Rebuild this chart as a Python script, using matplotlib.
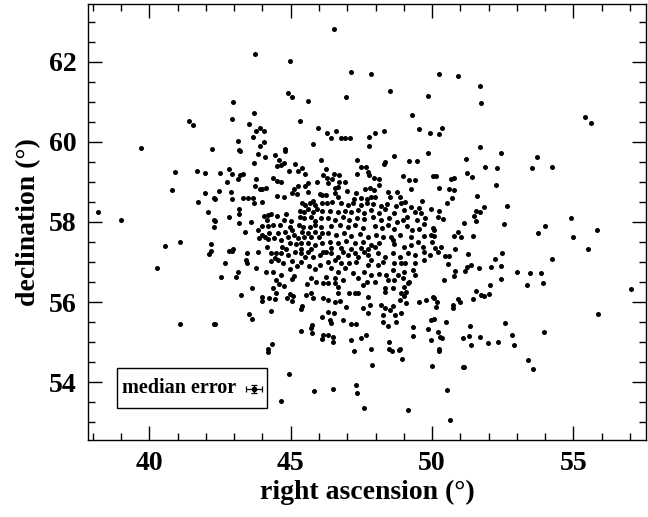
import numpy as np
import matplotlib
matplotlib.use('Agg')
import matplotlib.pyplot as plt
from matplotlib.patches import Rectangle
from matplotlib.ticker import MultipleLocator

plt.rcParams['font.family'] = ['Liberation Serif', 'DejaVu Serif']
plt.rcParams['font.weight'] = 'bold'

# Source positions (RA, Dec in degrees)
ra_outer = [43.73, 42.95, 43.70, 41.39, 41.53, 42.94, 43.52, 43.92, 43.77, 44.06, 43.14, 43.66, 44.04, 43.92,
            39.71, 42.20, 43.18, 46.53, 44.97, 47.13, 47.83, 50.26, 50.92, 44.91, 45.03, 45.60, 46.94, 48.50,
            49.84, 49.28, 45.32, 45.97, 46.30, 46.41, 46.62, 46.79, 46.91, 47.11, 47.76, 47.99, 48.30, 49.53,
            49.94, 50.26, 50.34, 45.80, 47.76, 44.80, 51.70, 51.72, 55.41, 55.62, 51.70,
            40.90, 41.67, 41.97, 40.81, 41.96, 42.27, 41.73, 42.07, 38.19, 38.98, 42.27, 42.27, 41.08, 40.54,
            42.17, 42.18, 42.12, 40.27, 41.07, 42.29,
            51.14, 53.39, 53.58, 47.23, 48.57, 48.84, 50.26, 44.94, 47.88, 48.93, 50.00, 51.10, 44.65, 45.84,
            46.49, 47.30, 47.33, 47.60, 49.16, 50.54, 50.64, 44.19]
dec_outer = [62.20, 61.00, 60.73, 60.53, 60.42, 60.57, 60.45, 60.36, 60.27, 60.28, 60.03, 60.12, 60.00, 59.90,
             59.84, 59.82, 59.80, 62.83, 62.03, 61.74, 61.71, 61.69, 61.66, 61.23, 61.13, 61.02, 61.12, 61.28,
             61.14, 60.68, 60.53, 60.34, 60.22, 60.09, 60.28, 60.09, 60.09, 60.11, 60.13, 60.22, 60.27, 60.33,
             60.23, 60.19, 60.36, 59.95, 59.90, 59.82, 61.39, 60.97, 60.62, 60.47, 59.88,
             59.24, 59.27, 59.23, 58.81, 58.72, 58.59, 58.49, 58.24, 58.25, 58.04, 58.04, 57.88, 57.49, 57.41,
             57.45, 57.28, 57.19, 56.85, 55.44, 55.46,
             54.37, 54.55, 54.32, 54.78, 54.78, 54.80, 54.78, 54.20, 54.42, 54.57, 54.39, 54.37, 53.52, 53.77,
             53.82, 53.93, 53.72, 53.36, 53.29, 53.79, 53.06, 54.76]

ra_east = [51.20, 52.44, 53.71, 51.88, 52.30, 53.52, 54.24, 51.22, 51.41, 50.14, 50.67, 50.77, 50.24, 50.59,
           50.79, 52.25, 51.58, 50.70, 50.52, 50.26, 50.22, 50.37, 51.56, 51.68, 51.85, 51.50, 51.56, 52.66,
           51.14, 52.56, 53.99, 53.76, 54.92, 54.99, 55.85, 55.52, 50.08, 50.08, 50.91, 50.79, 51.03, 51.46,
           50.12, 50.20, 50.31, 50.82, 50.47, 50.61, 51.26, 50.57, 52.46, 52.24, 54.23, 51.23, 51.38, 52.09,
           52.43, 51.65, 51.15, 50.82, 50.78, 50.41, 52.44, 53.01, 53.46, 53.87, 53.93, 53.37, 52.06, 51.54,
           51.73, 51.85, 52.03, 51.44, 50.91, 51.00, 50.08, 50.17, 50.15, 50.73, 50.73, 57.04, 55.87, 50.08,
           50.50, 51.35, 52.59, 50.20, 50.29, 50.34, 51.08, 51.31, 51.70, 52.83, 53.97, 51.37, 51.97, 52.35,
           52.90, 50.26]
dec_east = [59.58, 59.72, 59.63, 59.37, 59.34, 59.34, 59.38, 59.22, 59.12, 59.14, 59.08, 59.09, 58.85, 58.83,
            58.81, 58.92, 58.65, 58.61, 58.48, 58.28, 58.13, 58.07, 58.28, 58.26, 58.37, 58.16, 58.03, 58.41,
            57.97, 57.94, 57.91, 57.72, 58.09, 57.62, 57.80, 57.33, 57.79, 57.66, 57.75, 57.65, 57.63, 57.66,
            57.35, 57.25, 57.37, 57.33, 57.16, 57.14, 57.21, 56.95, 57.23, 57.07, 57.08, 56.88, 56.93, 56.87,
            56.89, 56.84, 56.78, 56.78, 56.64, 56.54, 56.57, 56.75, 56.72, 56.73, 56.47, 56.42, 56.42, 56.28,
            56.18, 56.15, 56.21, 56.08, 56.08, 56.01, 56.11, 55.99, 55.87, 55.92, 55.85, 56.33, 55.70, 55.58,
            55.49, 55.41, 55.47, 55.24, 55.12, 55.09, 55.09, 55.16, 55.13, 55.18, 55.24, 54.92, 54.98, 54.99,
            54.93, 54.82]

ra_core_n = [43.19, 43.83, 44.09, 44.45, 44.79, 44.59, 44.75, 44.51, 44.66, 43.70, 45.14, 45.40, 46.06, 42.80,
             42.92, 42.51, 43.19, 43.31, 43.13, 43.79, 44.38, 44.51, 44.67, 44.93, 45.25, 45.50, 46.16, 42.75,
             43.72, 43.90, 44.00, 44.11, 45.10, 45.26, 45.49, 45.60, 45.92, 45.05, 45.24, 42.45, 42.88, 42.34,
             42.94, 43.31, 43.48, 43.67, 43.69, 43.99, 44.51, 44.75, 45.61, 46.04, 46.11, 45.40, 45.52, 45.67,
             45.79, 45.85, 46.09, 43.16, 43.18, 42.81, 42.32, 43.16, 43.58, 44.05, 44.18, 44.30, 44.16, 44.51,
             44.82, 44.76, 45.01, 45.32, 45.47, 45.61, 45.79, 45.93, 46.09, 45.32, 45.47, 45.73, 45.85, 46.06,
             45.29, 45.44, 45.67, 45.85, 46.06, 45.40, 45.61, 45.85, 46.09, 43.86, 44.00, 44.18, 44.38, 44.63,
             44.97, 45.06, 43.40, 43.97, 44.09, 44.24, 44.56, 44.79, 44.89, 43.88, 44.20, 44.41, 44.64, 45.10,
             45.26, 45.47, 45.73, 45.99, 44.97, 45.20, 45.38, 45.61, 45.85, 46.09, 42.97, 44.16, 44.71, 44.85,
             45.38, 45.73,
             47.35, 48.67, 48.29, 48.34, 49.17, 49.47, 49.84, 47.50, 47.67, 47.73, 47.76, 47.34, 46.25, 46.52,
             46.72, 47.94, 48.11, 48.98, 49.19, 49.41, 50.04, 46.30, 46.46, 46.32, 46.70, 46.93, 48.11, 46.67,
             46.55, 47.00, 47.30, 47.64, 47.81, 47.95, 49.24, 46.26, 46.55, 46.67, 47.23, 47.50, 47.71, 47.85,
             47.99, 48.43, 48.51, 48.75, 48.87, 49.06, 49.65, 46.30, 46.46, 46.79, 47.02, 47.20, 47.47, 47.71,
             47.91, 48.20, 48.41, 48.73, 48.91, 49.26, 49.54, 49.61, 46.38, 46.67, 46.91, 47.14, 47.38, 47.59,
             47.85, 48.11, 48.32, 48.65, 49.00, 49.12, 49.38, 49.74, 49.97, 46.32, 46.55, 46.85, 47.08, 47.35,
             47.61, 47.91, 48.20, 48.49, 48.77, 48.96, 49.47, 49.73, 46.44, 46.73, 47.02, 47.28, 47.55, 47.97,
             48.22, 48.43, 48.67, 49.12, 49.28, 49.55, 50.02, 46.32, 46.61, 46.88, 47.14, 47.44, 47.73, 48.03,
             48.26, 48.55, 48.85, 49.24, 49.73, 49.97, 46.38, 46.67, 46.97, 47.26, 47.55, 47.85, 48.14, 48.61,
             48.67, 49.02, 49.26, 49.52, 49.67, 49.99, 46.44, 46.79, 47.14, 47.50, 47.73, 47.97]
dec_core_n = [59.77, 59.69, 59.62, 59.68, 59.78, 59.56, 59.47, 59.39, 59.43, 59.48, 59.46, 59.34, 59.56, 59.32,
              59.21, 59.22, 59.18, 59.20, 59.07, 59.08, 59.09, 59.03, 58.99, 59.27, 59.27, 59.19, 59.18, 58.99,
              58.91, 58.82, 58.83, 58.85, 58.83, 58.89, 58.90, 58.98, 58.99, 58.73, 58.71, 58.78, 58.75, 58.57,
              58.58, 58.60, 58.60, 58.59, 58.48, 58.49, 58.66, 58.63, 58.76, 58.70, 58.68, 58.48, 58.43, 58.48,
              58.53, 58.43, 58.47, 58.32, 58.21, 58.13, 58.03, 57.98, 58.01, 58.15, 58.18, 58.20, 58.05, 58.16,
              58.20, 58.05, 58.03, 58.28, 58.25, 58.33, 58.25, 58.33, 58.28, 58.13, 58.09, 58.13, 58.03, 58.09,
              57.93, 57.87, 57.88, 57.93, 57.88, 57.76, 57.73, 57.76, 57.72, 57.79, 57.90, 57.90, 57.93, 57.93,
              57.88, 57.80, 57.75, 57.68, 57.63, 57.72, 57.72, 57.76, 57.62, 57.59, 57.57, 57.61, 57.55, 57.68,
              57.59, 57.63, 57.62, 57.63, 57.47, 57.44, 57.47, 57.48, 57.43, 57.47, 57.33, 57.38, 57.38, 57.33,
              57.33, 57.33,
              59.55, 59.66, 59.45, 59.51, 59.53, 59.53, 59.72, 59.37, 59.37, 59.25, 59.18, 59.19, 59.32, 59.19,
              59.17, 59.09, 59.07, 59.15, 59.06, 59.04, 59.15, 59.09, 59.08, 58.98, 59.00, 58.99, 58.93, 58.88,
              58.84, 58.77, 58.72, 58.83, 58.84, 58.79, 58.83, 58.68, 58.72, 58.63, 58.58, 58.60, 58.58, 58.63,
              58.63, 58.74, 58.63, 58.74, 58.62, 58.51, 58.53, 58.47, 58.51, 58.48, 58.43, 58.47, 58.43, 58.47,
              58.44, 58.40, 58.45, 58.40, 58.47, 58.38, 58.34, 58.23, 58.28, 58.26, 58.28, 58.25, 58.30, 58.23,
              58.30, 58.23, 58.33, 58.22, 58.30, 58.13, 58.25, 58.11, 58.32, 58.09, 58.05, 58.13, 58.05, 58.09,
              58.07, 58.13, 58.05, 58.09, 58.01, 58.05, 58.05, 57.96, 57.90, 57.93, 57.87, 57.92, 57.84, 57.90,
              57.84, 57.93, 57.83, 57.90, 57.80, 57.82, 57.86, 57.72, 57.68, 57.72, 57.65, 57.70, 57.63, 57.68,
              57.63, 57.62, 57.68, 57.63, 57.65, 57.68, 57.51, 57.47, 57.53, 57.47, 57.51, 57.43, 57.48, 57.55,
              57.45, 57.38, 57.43, 57.51, 57.38, 57.51, 57.34, 57.34, 57.32, 57.34, 57.32, 57.38]

ra_core_s = [42.81, 42.93, 43.44, 43.85, 44.32, 44.47, 44.67, 44.91, 45.14, 45.38, 45.61, 45.79, 46.03, 46.14,
             45.50, 44.30, 44.44, 44.55, 43.42, 43.45, 42.67, 44.73, 45.06, 45.24, 45.36, 45.65, 45.85, 46.04,
             43.78, 44.12, 44.39, 44.64, 44.99, 45.12, 45.05, 43.12, 43.07, 42.53, 44.47, 44.59, 44.75, 45.56,
             45.73, 45.91, 46.14, 43.62, 44.38, 43.23, 43.97, 44.00, 44.24, 44.44, 44.47, 44.86, 44.97, 45.08,
             45.06, 45.54, 45.71, 45.80, 46.14, 45.40, 45.38, 44.31, 43.52, 43.62, 42.32, 46.11, 45.74, 45.72,
             45.36, 45.75, 46.09, 44.35, 44.21, 46.14,
             46.26, 46.44, 46.67, 46.85, 47.02, 47.26, 47.38, 47.61, 47.73, 48.08, 48.32, 48.61, 48.85, 49.14,
             49.38, 49.73, 49.91, 46.32, 46.55, 46.79, 47.08, 47.32, 47.73, 47.85, 48.08, 48.26, 48.67, 48.91,
             49.05, 49.38, 49.73, 46.44, 46.67, 46.93, 47.20, 47.61, 47.85, 48.14, 48.38, 48.61, 48.79, 49.02,
             49.32, 49.38, 46.26, 46.55, 46.85, 47.38, 47.71, 47.97, 48.43, 48.67, 48.96, 49.20, 46.55, 46.67,
             46.32, 47.55, 48.32, 48.61, 49.02, 49.14, 47.08, 47.26, 47.38, 47.73, 46.67, 48.32, 48.91, 49.09,
             46.32, 46.55, 46.73, 48.85, 49.02, 49.09, 49.55, 49.79, 50.02, 47.79, 48.20, 48.32, 48.50, 48.61,
             48.70, 46.97, 47.55, 46.32, 46.53, 47.73, 48.26, 48.91, 46.38, 46.44, 46.85, 47.12, 47.32, 48.26,
             48.43, 48.73, 49.32, 49.87, 49.97, 46.32, 46.49, 46.49, 47.14, 47.50, 47.67, 48.49, 49.32, 49.97,
             47.85, 48.49, 48.85]
dec_core_s = [57.27, 57.27, 57.22, 57.25, 57.23, 57.22, 57.23, 57.18, 57.26, 57.22, 57.26, 57.13, 57.18, 57.26,
              57.13, 57.03, 57.09, 57.05, 57.05, 56.97, 56.97, 56.97, 57.03, 56.90, 57.01, 56.90, 56.83, 56.93,
              56.84, 56.74, 56.76, 56.68, 56.83, 56.65, 56.58, 56.75, 56.62, 56.62, 56.55, 56.45, 56.40, 56.45,
              56.59, 56.50, 56.48, 56.35, 56.35, 56.18, 56.13, 56.03, 56.09, 56.07, 56.22, 56.09, 56.20, 56.16,
              56.03, 56.17, 56.22, 56.09, 56.09, 55.90, 55.83, 55.78, 55.71, 55.58, 55.45, 55.63, 55.42, 55.36,
              55.27, 55.23, 55.07, 54.95, 54.82, 55.18,
              57.26, 57.22, 57.13, 57.26, 57.18, 57.22, 57.13, 57.26, 57.18, 57.23, 57.13, 57.22, 57.13, 57.22,
              57.18, 57.26, 57.18, 57.01, 57.05, 56.97, 56.97, 57.01, 56.93, 57.05, 56.93, 57.01, 56.98, 56.97,
              56.98, 56.98, 57.05, 56.84, 56.76, 56.84, 56.72, 56.76, 56.68, 56.70, 56.68, 56.80, 56.68, 56.76,
              56.80, 56.68, 56.63, 56.59, 56.55, 56.59, 56.51, 56.51, 56.55, 56.55, 56.59, 56.51, 56.47, 56.38,
              56.47, 56.43, 56.34, 56.34, 56.38, 56.47, 56.23, 56.23, 56.22, 56.13, 56.22, 56.26, 56.22, 56.26,
              56.05, 56.01, 56.03, 56.05, 56.15, 55.97, 56.01, 56.05, 56.13, 55.93, 55.93, 55.84, 55.80, 55.90,
              55.68, 55.88, 55.84, 55.76, 55.73, 55.73, 55.68, 55.73, 55.55, 55.47, 55.55, 55.45, 55.45, 55.51,
              55.40, 55.51, 55.37, 55.32, 55.55, 55.18, 55.13, 55.01, 55.05, 55.09, 55.18, 55.01, 55.15, 55.05,
              54.82, 54.82, 54.82]

ra = np.array(ra_outer + ra_east + ra_core_n + ra_core_s)
dec = np.array(dec_outer + dec_east + dec_core_n + dec_core_s)

# median error bar shown in the key box
med_ra, med_dec = 43.70, 53.83
med_err_ra, med_err_dec = 0.28, 0.10

fig = plt.figure(figsize=(6.48, 5.17), dpi=100)
ax = fig.add_axes([0.1358, 0.1489, 0.8612, 0.8434])

ax.plot(ra, dec, 'o', color='black', ms=3.6, mew=0)

# key box
ax.add_patch(Rectangle((38.85, 53.34), 5.30, 1.00, fill=False, lw=1.0, ec='black'))
ax.text(39.02, 53.84, 'median error', fontsize=14.5, fontweight='bold', va='center', ha='left')
ax.errorbar(med_ra, med_dec, xerr=med_err_ra, yerr=med_err_dec, fmt='o', color='black',
            ms=3, capsize=2.5, elinewidth=0.9, capthick=0.9)

ax.set_xlim(37.83, 57.57)
ax.set_ylim(52.55, 63.45)
ax.xaxis.set_major_locator(MultipleLocator(5))
ax.xaxis.set_minor_locator(MultipleLocator(1))
ax.yaxis.set_major_locator(MultipleLocator(2))
ax.yaxis.set_minor_locator(MultipleLocator(0.5))
ax.tick_params(which='both', direction='in', top=True, right=True, labelsize=20, width=1)
ax.tick_params(which='major', length=10, pad=8)
ax.tick_params(which='minor', length=5)
for lab in ax.get_xticklabels() + ax.get_yticklabels():
    lab.set_fontweight('bold')
for sp in ax.spines.values():
    sp.set_linewidth(1)

ax.set_xlabel('right ascension (°)', fontsize=20, fontweight='bold', labelpad=3)
ax.set_ylabel('declination (°)', fontsize=20, fontweight='bold', labelpad=6)

fig.savefig('out.png', dpi=100)
